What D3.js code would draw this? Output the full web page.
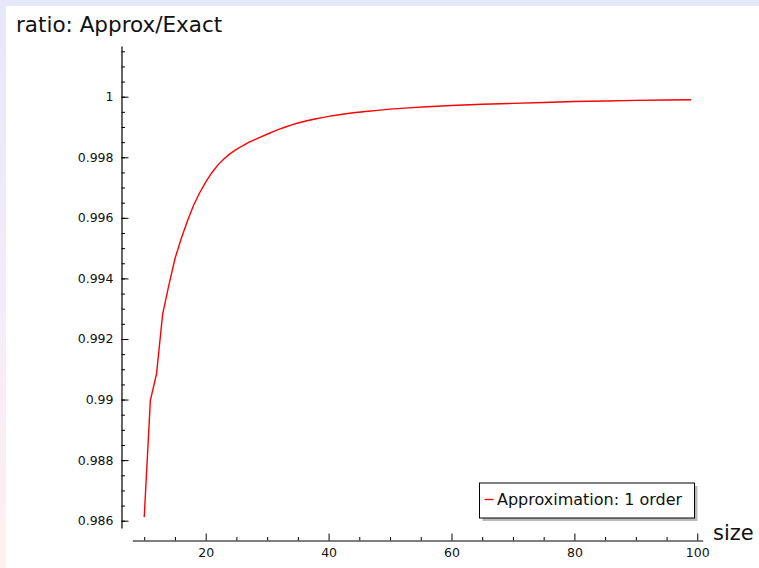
<!DOCTYPE html>
<html>
<head>
<meta charset="utf-8">
<script src="https://cdn.jsdelivr.net/npm/d3@7"></script>
<style>
  html, body { margin: 0; padding: 0; }
  body {
    width: 759px; height: 568px; overflow: hidden;
    background: linear-gradient(to bottom, #e7e7fa 0%, #f3ecf8 50%, #fdf0f0 100%);
  }
  svg { display: block; }
  text { font-family: "DejaVu Sans", sans-serif; }
</style>
</head>
<body>
<svg class="chart" width="759" height="568"></svg>
<script>
// problem size n and the ratio approx/exact
var sizes = [10, 11, 12, 13, 14, 15, 16, 17, 18, 19, 20, 21, 22, 23, 24, 25, 26, 27, 28, 29, 30,
  31, 32, 33, 34, 35, 36, 37, 38, 39, 40, 42, 44, 46, 48, 50, 53, 56, 60, 65, 70, 75, 80, 85, 90, 95, 99]
var ratios = [0.98612, 0.98997, 0.99085, 0.99282, 0.99377, 0.99465, 0.99530, 0.99588, 0.99640, 0.99682,
  0.99718, 0.99749, 0.99775, 0.99795, 0.99812, 0.99826, 0.99838, 0.99849, 0.99858, 0.99867, 0.99876,
  0.99885, 0.99893, 0.99900, 0.99907, 0.99913, 0.99918, 0.99923, 0.99927, 0.99931, 0.99935,
  0.99941, 0.99947, 0.99951, 0.99955, 0.99959, 0.99963, 0.99967, 0.99971, 0.99975,
  0.99978, 0.99981, 0.99984, 0.99986, 0.99988, 0.99989, 0.99990]

var xTicks = [20, 40, 60, 80, 100]
var xMinor = [10, 15, 25, 30, 35, 45, 50, 55, 65, 70, 75, 85, 90, 95]
var yTicks = [0.986, 0.988, 0.99, 0.992, 0.994, 0.996, 0.998, 1]
var yMinor = d3.range(0.9860, 1.0016, 0.0005)

var titleY = "ratio: Approx/Exact"
var titleX = "size"
var legendLabel = "Approximation: 1 order"

var svg = d3.select(".chart")

// white picture area inside the lavender frame
svg.append("rect")
  .attr("x", 6).attr("y", 6)
  .attr("width", 753).attr("height", 562)
  .attr("fill", "#fff")

var x = d3.scaleLinear().domain([8.06, 100.88]).range([132.3, 702.7])
var y = d3.scaleLinear().domain([0.985759, 1.001674]).range([528, 46])

var xAxisY = 540.5, yAxisX = 121.5

// minor ticks first
svg.append("g")
  .attr("transform", "translate(0," + xAxisY + ")")
  .call(d3.axisBottom(x).tickValues(xMinor).tickSizeInner(-3.5).tickSizeOuter(0).tickFormat(""))
  .call(function(g) { g.select(".domain").remove() })

svg.append("g")
  .attr("transform", "translate(" + yAxisX + ",0)")
  .call(d3.axisLeft(y).tickValues(yMinor).tickSizeInner(-3.5).tickSizeOuter(0).tickFormat(""))
  .call(function(g) { g.select(".domain").remove() })

var gx = svg.append("g")
  .attr("transform", "translate(0," + xAxisY + ")")
  .call(d3.axisBottom(x).tickValues(xTicks).tickSizeInner(-7).tickSizeOuter(0).tickPadding(7.5))
gx.selectAll("text").attr("font-size", 12.5).attr("font-family", "DejaVu Sans").attr("fill", "#111")

var gy = svg.append("g")
  .attr("transform", "translate(" + yAxisX + ",0)")
  .call(d3.axisLeft(y).tickValues(yTicks).tickSizeInner(-7).tickSizeOuter(0).tickPadding(8)
    .tickFormat(function(d) { return d3.format("")(+d.toFixed(3)) }))
gy.selectAll("text").attr("font-size", 12.5).attr("font-family", "DejaVu Sans").attr("fill", "#111")

svg.selectAll(".domain").attr("stroke", "#000").attr("stroke-width", 1.2)

var line = d3.line()
  .x(function(d, i) { return x(sizes[i]) })
  .y(function(d) { return y(d) })

svg.append("path")
  .datum(ratios)
  .attr("d", line)
  .attr("fill", "none")
  .attr("stroke", "#ff0000")
  .attr("stroke-width", 1.4)

svg.append("text")
  .attr("x", 16).attr("y", 32)
  .attr("font-size", 21.5)
  .attr("fill", "#111")
  .text(titleY)

svg.append("text")
  .attr("x", 713).attr("y", 540)
  .attr("font-size", 21)
  .attr("fill", "#111")
  .text(titleX)

// legend with a small drop shadow
var lg = svg.append("g").attr("transform", "translate(479.5,483)")
lg.append("rect")
  .attr("x", 3).attr("y", 3).attr("width", 215).attr("height", 35)
  .attr("fill", "#888").attr("opacity", 0.6)
lg.append("rect")
  .attr("width", 215).attr("height", 35)
  .attr("fill", "#fff").attr("stroke", "#000").attr("stroke-width", 1)
lg.append("line")
  .attr("x1", 5).attr("x2", 14).attr("y1", 16.5).attr("y2", 16.5)
  .attr("stroke", "#ff0000").attr("stroke-width", 1.3)
lg.append("text")
  .attr("x", 17.5).attr("y", 22)
  .attr("font-size", 16)
  .attr("fill", "#111")
  .text(legendLabel)
</script>
</body>
</html>
